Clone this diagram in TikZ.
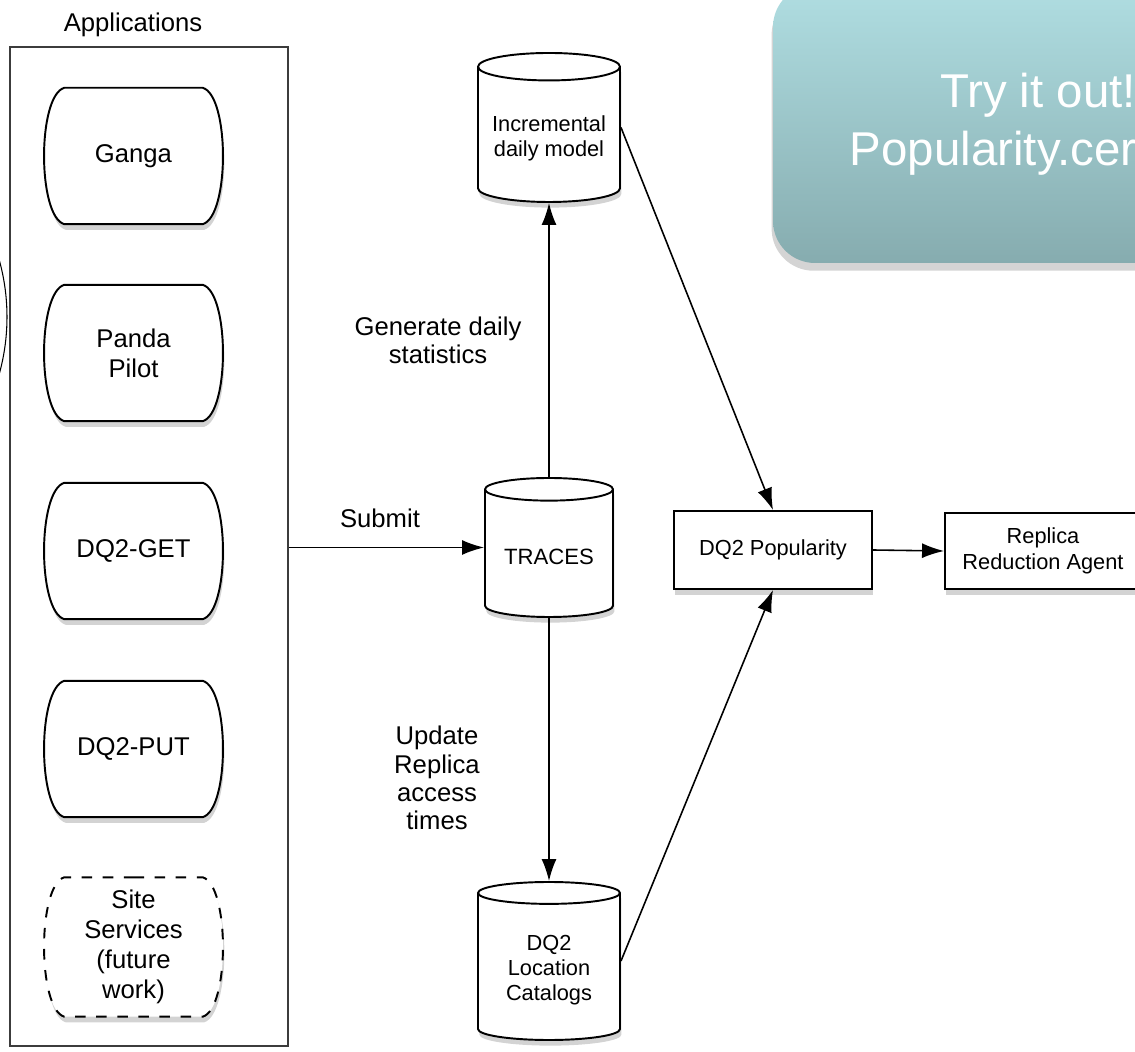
\documentclass[tikz,border=0pt]{standalone}
\usepackage{fontspec}
\setmainfont{Liberation Sans}
\usetikzlibrary{shapes.geometric,shadows,arrows.meta,backgrounds}
\definecolor{tryTop}{RGB}{176,222,226}
\definecolor{tryBot}{RGB}{134,172,175}
\definecolor{tryShadow}{RGB}{212,212,212}
\definecolor{frameGray}{RGB}{60,60,60}

\begin{document}
\begin{tikzpicture}[
  appnode/.style={minimum width=1.77cm, minimum height=1.35cm,
    align=center, font=\fontsize{7.3}{8.6}\selectfont},
  appline/.style={draw, line width=0.55pt, fill=white,
    drop shadow={opacity=0.35, shadow xshift=0.4pt, shadow yshift=-1.6pt}},
  dbnode/.style={draw, line width=0.55pt, fill=white, cylinder, shape border rotate=90,
    aspect=0.2, minimum width=1.42cm, minimum height=1.49cm, anchor=shape center,
    align=center, font=\fontsize{6.2}{7.1}\selectfont,
    drop shadow={opacity=0.35, shadow xshift=0.4pt, shadow yshift=-1.6pt}},
  boxnode/.style={draw, line width=0.55pt, fill=white, minimum width=1.98cm,
    minimum height=0.78cm, align=center, font=\fontsize{6.2}{7.2}\selectfont,
    drop shadow={opacity=0.35, shadow xshift=0.4pt, shadow yshift=-1.6pt}},
  lbl/.style={align=center, font=\fontsize{7.3}{8}\selectfont},
  conn/.style={-{Latex[length=0.22cm,width=0.15cm]}, line width=0.45pt}
]
\path[use as bounding box] (0,0) rectangle (11.35,-10.52);
\clip (0,0) rectangle (11.35,-10.52);

% left frame and the applications
\draw[line width=0.3pt] (-2.05,-3.17) circle (2.12);
\node[draw=frameGray, line width=0.6pt, minimum width=2.78cm, minimum height=9.99cm] (apps) at (1.49,-5.465) {};
\node[lbl] (apptitle) at (1.33,-0.25) {Applications};

\node[appnode] (ganga) at (1.335,-1.56) {Ganga};
\node[appnode] (panda) at (1.335,-3.53) {Panda\\Pilot};
\node[appnode] (dqget) at (1.335,-5.51) {DQ2-GET};
\node[appnode] (dqput) at (1.335,-7.49) {DQ2-PUT};
\node[appnode] (site) at (1.335,-9.47) {Site\\Services\\(future\\work)};

% barrel outlines behind the application names
\begin{scope}[on background layer]
\foreach \n/\ls in {ganga/solid,panda/solid,dqget/solid,dqput/solid,site/dashed}
  \path[appline,\ls] (\n.north) -- ([xshift=-0.2cm]\n.north east)
    .. controls ([xshift=0.07cm,yshift=-0.08cm]\n.north east) and ([xshift=0.07cm,yshift=0.08cm]\n.south east) .. ([xshift=-0.2cm]\n.south east)
    -- ([xshift=0.2cm]\n.south west)
    .. controls ([xshift=-0.07cm,yshift=0.08cm]\n.south west) and ([xshift=-0.07cm,yshift=-0.08cm]\n.north west) .. ([xshift=0.2cm]\n.north west)
    -- cycle;
\end{scope}

% databases
\node[dbnode] (inc) at (5.49,-1.275) {Incremental\\daily model};
\node[dbnode, minimum width=1.28cm, minimum height=1.39cm, font=\fontsize{6.3}{7.1}\selectfont] (traces) at (5.49,-5.475) {TRACES};
\node[dbnode, minimum height=1.58cm] (loc) at (5.49,-9.61) {DQ2\\Location\\Catalogs};

% popularity
\node[boxnode] (pop) at (7.73,-5.50) {DQ2 Popularity};
\node[boxnode, minimum width=1.96cm, minimum height=0.76cm] (rra) at (10.43,-5.51) {Replica\\Reduction Agent};

\draw[conn] (apps.east |- traces.shape center) -- (traces.shape center -| traces.west);
\draw[conn] (traces.north) -- (inc.south);
\draw[conn] (traces.south) -- (loc.north);
\draw[conn] (inc.shape center -| inc.east) -- (pop.north);
\draw[conn] (loc.shape center -| loc.east) -- (pop.south);
\draw[conn] (pop.east) -- (rra.west);

\node[lbl] (submit) at (3.80,-5.18) {Submit};
\node[lbl] (gen) at (4.38,-3.40) {Generate daily\\statistics};
\node[lbl] (upd) at (4.37,-7.78) {Update\\Replica\\access\\times};

% call-out
\node[rounded corners=0.42cm, top color=tryTop, bottom color=tryBot,
  minimum width=5.3cm, minimum height=2.78cm, align=center, text=white,
  font=\fontsize{13.5}{16.5}\selectfont,
  drop shadow={fill=tryShadow, opacity=1, shadow xshift=-0.4pt, shadow yshift=-2.2pt}]
  (tryit) at (10.38,-1.24) {Try it out!\\Popularity.cern.ch};

\end{tikzpicture}
\end{document}
